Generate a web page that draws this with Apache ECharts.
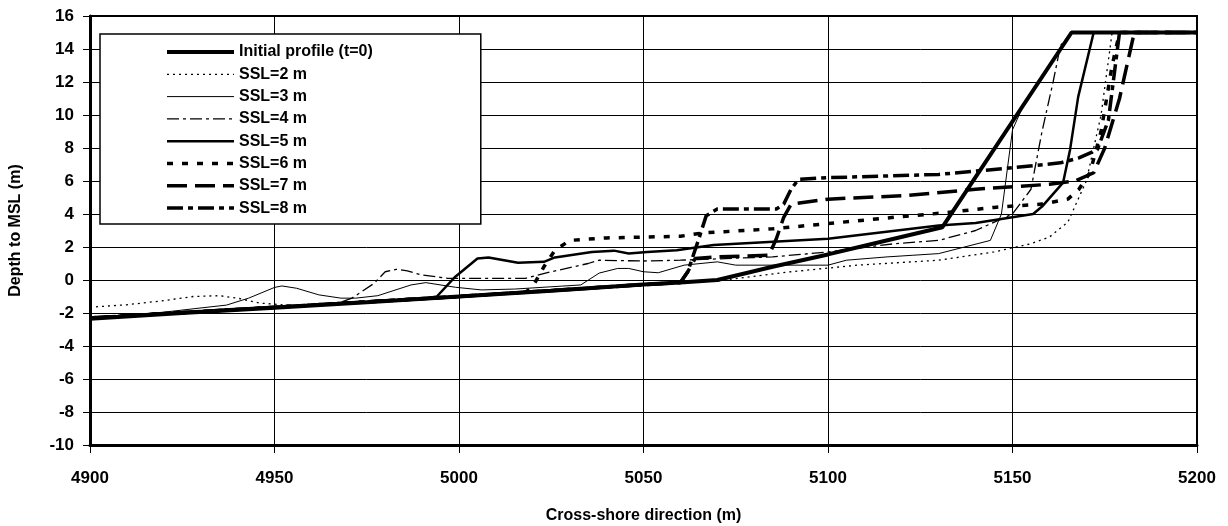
<!DOCTYPE html>
<html><head><meta charset="utf-8">
<script src="https://cdn.jsdelivr.net/npm/echarts@6/dist/echarts.min.js"></script>
<style>html,body{margin:0;padding:0;background:#fff}#c{width:1228px;height:526px}</style>
</head><body><div id="c"></div>
<script>
const xTicks = [4900, 4950, 5000, 5050, 5100, 5150, 5200];
const yTicks = [-10, -8, -6, -4, -2, 0, 2, 4, 6, 8, 10, 12, 14, 16];
const seriesNames = ["Initial profile (t=0)", "SSL=2 m", "SSL=3 m", "SSL=4 m", "SSL=5 m", "SSL=6 m", "SSL=7 m", "SSL=8 m"];

const initial = [[4900,-2.35],[4925,-2.0],[4950,-1.68],[4975,-1.35],[5000,-1.0],[5025,-0.65],[5050,-0.28],[5060,-0.15],[5070,0.0],[5085,0.8],[5100,1.55],[5115,2.35],[5131,3.2],[5166,15.0],[5200,15.0]];
const ssl2 = [[4900,-1.65],[4910,-1.5],[4920,-1.25],[4928,-1.0],[4935,-0.95],[4940,-1.1],[4946,-1.4],[4955,-1.55],[4975,-1.3],[5000,-0.95],[5025,-0.6],[5050,-0.25],[5070,-0.05],[5090,0.5],[5108,0.9],[5130,1.2],[5145,1.7],[5155,2.2],[5160,2.6],[5165,3.5],[5170,6],[5174,10],[5177,15],[5200,15]];
const ssl3 = [[4900,-2.3],[4920,-1.95],[4929,-1.72],[4937,-1.52],[4943,-1.1],[4950,-0.45],[4952,-0.36],[4956,-0.5],[4962,-0.9],[4968,-1.1],[4972,-1.1],[4978,-0.95],[4987,-0.3],[4991,-0.16],[4999,-0.44],[5006,-0.6],[5015,-0.55],[5033,-0.3],[5038,0.42],[5043,0.7],[5046,0.7],[5050,0.5],[5054,0.44],[5061,0.9],[5070,1.1],[5075,0.9],[5100,0.9],[5105,1.2],[5116,1.4],[5123,1.5],[5130,1.6],[5144,2.4],[5147,4],[5150,9.1],[5153.4,10.8],[5166,15],[5200,15]];
const ssl4 = [[4900,-2.3],[4950,-1.65],[4968,-1.35],[4971,-1.1],[4977,-0.2],[4980,0.5],[4983,0.65],[4986,0.55],[4990,0.3],[4997,0.1],[5018,0.1],[5025,0.5],[5035,1.0],[5038,1.2],[5050,1.15],[5060,1.2],[5085,1.4],[5100,1.7],[5118,2.2],[5130,2.4],[5140,3.0],[5150,4.0],[5155,5.5],[5158,9],[5161,12],[5163,14.2],[5166,15],[5200,15]];
const ssl5 = [[4900,-2.3],[4950,-1.65],[4990,-1.15],[4994,-1.0],[4999,0.2],[5005,1.3],[5008,1.37],[5016,1.05],[5023,1.1],[5026,1.37],[5036,1.7],[5042,1.78],[5046,1.6],[5051,1.7],[5059,1.8],[5069,2.12],[5100,2.5],[5130,3.3],[5140,3.45],[5155.6,4.0],[5158,4.45],[5163.7,5.9],[5165.6,7.9],[5167.8,11.1],[5172,15],[5200,15]];
const ssl6 = [[4900,-2.3],[4950,-1.65],[5000,-1.0],[5018,-0.75],[5020,-0.4],[5023,0.8],[5026,1.8],[5030,2.4],[5040,2.55],[5050,2.6],[5060,2.65],[5066,2.85],[5072,2.93],[5085,3.1],[5099,3.4],[5115,3.74],[5130,4.04],[5145,4.4],[5158,4.6],[5165,4.9],[5168,5.5],[5171,6.5],[5174,9],[5177,13],[5179,15],[5200,15]];
const ssl7 = [[4900,-2.3],[4950,-1.65],[5000,-1.0],[5050,-0.28],[5060,-0.15],[5062,0.5],[5064,1.3],[5070,1.4],[5084,1.5],[5086,2.5],[5088,3.8],[5090,4.6],[5100,4.9],[5120,5.1],[5140,5.5],[5160,5.8],[5167,6.0],[5172,6.5],[5175,8],[5179,11],[5182,14],[5183,15],[5200,15]];
const ssl8 = [[4900,-2.3],[4950,-1.65],[5000,-1.0],[5050,-0.28],[5060,-0.15],[5062,0.5],[5065,2.5],[5067,3.9],[5070,4.3],[5086,4.3],[5088,4.6],[5090,5.5],[5092,6.1],[5100,6.2],[5130,6.4],[5150,6.8],[5163,7.1],[5168,7.4],[5173,7.9],[5176,9.7],[5179,15],[5200,15]];

const styles = [
  {width:4, type:'solid'},
  {width:1.3, type:[2,4]},
  {width:1, type:'solid'},
  {width:1.3, type:[12,4,3,4]},
  {width:2.5, type:'solid'},
  {width:3.5, type:[6,9]},
  {width:3.5, type:[20,8]},
  {width:3.5, type:[16,5,5,5]}
];
const dataSets = [initial, ssl2, ssl3, ssl4, ssl5, ssl6, ssl7, ssl8];
const FONT = '"Liberation Sans", Arial, sans-serif';

const chart = echarts.init(document.getElementById('c'), null, {renderer:'canvas'});
chart.setOption({
  animation:false,
  backgroundColor:'#fff',
  grid:{left:90, top:16, right:31, bottom:81, show:true, borderColor:'#000', borderWidth:2, containLabel:false, outerBoundsMode:'none'},
  legend:{
    orient:'vertical', left:100, top:34,
    padding:[10,108,8,65], itemGap:6.3, itemWidth:67, itemHeight:14,
    backgroundColor:'#fff', borderColor:'#000', borderWidth:1.5,
    itemStyle:{opacity:0},
    textStyle:{fontFamily:FONT, fontWeight:'bold', fontSize:16, color:'#000'},
    data:seriesNames.map((n,i)=>({name:n, lineStyle:{color:'#000', width:styles[i].width, type:styles[i].type}}))
  },
  xAxis:{
    type:'value', min:xTicks[0], max:xTicks[xTicks.length-1], interval:50,
    name:'Cross-shore direction (m)', nameLocation:'middle', nameGap:63,
    nameTextStyle:{fontFamily:FONT, fontWeight:'bold', fontSize:16, color:'#000'},
    axisLine:{show:true, onZero:false, lineStyle:{color:'#000', width:3}},
    axisTick:{show:true, inside:false, length:8, lineStyle:{color:'#000', width:1}},
    axisLabel:{fontFamily:FONT, fontWeight:'bold', fontSize:17, color:'#000', margin:25, formatter:v=>String(v)},
    splitLine:{show:true, lineStyle:{color:'#000', width:1}}
  },
  yAxis:{
    type:'value', min:yTicks[0], max:yTicks[yTicks.length-1], interval:2,
    name:'Depth to MSL (m)', nameLocation:'middle', nameGap:66, nameRotate:90,
    nameTextStyle:{fontFamily:FONT, fontWeight:'bold', fontSize:16, color:'#000'},
    axisLine:{show:true, onZero:false, lineStyle:{color:'#000', width:3}},
    axisTick:{show:true, inside:false, length:7, lineStyle:{color:'#000', width:1}},
    axisLabel:{fontFamily:FONT, fontWeight:'bold', fontSize:17, color:'#000', margin:16, formatter:v=>String(v)},
    splitLine:{show:true, lineStyle:{color:'#000', width:1}}
  },
  series: seriesNames.map((n,i)=>({
    name:n, type:'line', data:dataSets[i], showSymbol:false, symbol:'none', symbolSize:0,
    lineStyle:{color:'#000', width:styles[i].width, type:styles[i].type},
    itemStyle:{color:'#000'}, z: 10-i
  }))
});
</script></body></html>
